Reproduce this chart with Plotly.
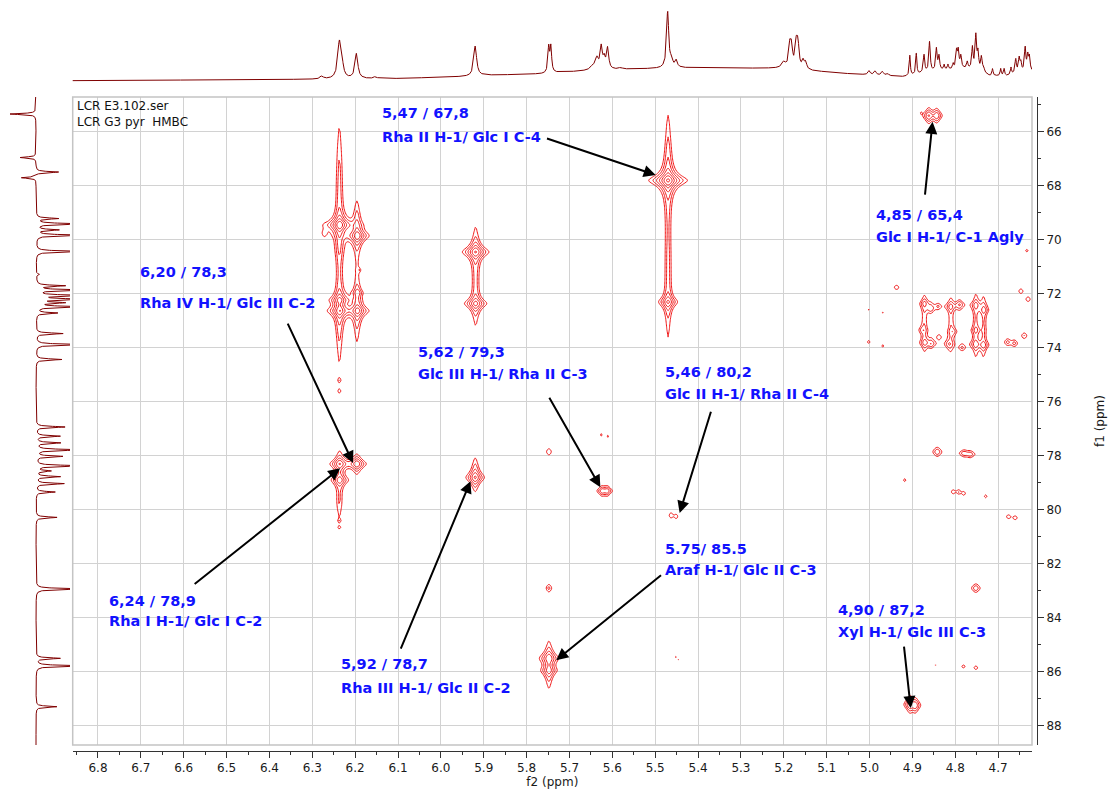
import numpy as np
import plotly.graph_objects as go

# ---------------- 1H projection (top trace) ----------------
h_base_ppm = [6.86, 6.30, 6.10, 5.93, 5.90, 5.76, 5.73, 5.66, 5.58, 5.49, 5.44, 5.40, 5.21,
              5.14, 5.04, 4.95, 4.92, 4.87, 4.82, 4.78, 4.74, 4.72, 4.68, 4.66, 4.62]
h_base_int = [4.3, 5.7, 6.5, 8.6, 9.6, 11.2, 12.4, 14.2, 15.6, 16.6, 17.2, 17.0, 16.7,
              14.3, 11.0, 9.0, 8.3, 12.0, 15.0, 16.0, 13.0, 9.0, 9.0, 11.0, 13.0]

h_peak_ppm = [6.278, 6.237, 6.231, 6.197, 6.153,
              5.920,
              5.7485, 5.7435,
              5.646, 5.636, 5.626, 5.619, 5.611, 5.581,
              5.471, 5.462, 5.451,
              5.200, 5.186, 5.182, 5.171, 5.167, 5.155, 5.149,
              5.001, 4.987, 4.970, 4.958,
              4.906, 4.891, 4.873, 4.860, 4.844, 4.838,
              4.826, 4.817, 4.805,
              4.797, 4.793, 4.787, 4.772,
              4.760, 4.752, 4.747, 4.739, 4.734,
              4.713, 4.694, 4.686, 4.670,
              4.659, 4.651, 4.647,
              4.637, 4.631, 4.627]
h_peak_int = [3, 35, 12, 25, 2,
              30,
              25, 25,
              4, 11, 22, 10, 21, 1.5,
              56, 8, 7,
              6, 21, 19, 23, 23, 8, 7,
              4, 4, 4, 2,
              20, 21, 18, 30, 22, 14,
              5, 5, 5,
              17, 17, 12, 7,
              22, 34, 17, 14, 5,
              7, 7, 7, 7,
              14, 14, 9,
              24, 15, 14]
h_peak_hw = [0.004, 0.0045, 0.004, 0.004, 0.004,
             0.004,
             0.0022, 0.0022,
             0.006, 0.004, 0.003, 0.003, 0.003, 0.005,
             0.003, 0.003, 0.003,
             0.005, 0.003, 0.003, 0.003, 0.003, 0.003, 0.003,
             0.003, 0.003, 0.003, 0.003,
             0.0015, 0.0015, 0.002, 0.002, 0.002, 0.002,
             0.0015, 0.0015, 0.0015,
             0.002, 0.002, 0.002, 0.002,
             0.002, 0.002, 0.002, 0.002, 0.002,
             0.0015, 0.0015, 0.0015, 0.0015,
             0.002, 0.002, 0.002,
             0.002, 0.002, 0.002]

# ---------------- 13C projection (left trace) ----------------
c_peak_ppm = [65.34, 66.95, 67.49, 67.70, 69.21, 69.41, 69.63, 69.83, 70.43, 71.28, 71.70,
              71.86, 72.06, 72.20, 72.33, 72.48, 72.71, 73.47, 73.88, 74.43, 76.93, 77.27,
              77.52, 77.78, 78.02, 78.37, 78.56, 78.77, 79.03, 79.34, 80.28, 82.93, 85.50,
              85.78, 87.29]
c_peak_int = [-26, -16, 23, -15, 22, 50, 22, 50, 50, 3, 28,
              50, 50, 50, 26, 50, 21, 27, 50, 26, 29, 24,
              24, 50, 26, 50, 14, 24, 28, 19, 21, 50, 24,
              50, 21]

# ---------------- HMBC cross peaks: f2 (1H), f1 (13C), amplitude, half-widths ----------------
xp_h = [6.236, 6.195, 6.237, 6.237, 6.196, 6.190, 6.272,
        6.236, 6.236, 6.194, 6.194, 6.237, 6.196, 6.237, 6.237,
        6.236, 6.236, 6.196, 6.237, 6.237, 6.237,
        5.919, 5.919, 5.919, 5.920, 5.920,
        5.470, 5.470, 5.470, 5.470,
        5.748, 5.748, 5.748, 5.748, 5.748,
        5.624, 5.612, 5.626, 5.610,
        5.463, 5.451, 5.452, 5.445,
        4.862, 4.843, 4.880, 4.892,
        4.937, 5.002, 4.985, 4.969, 5.002, 4.969,
        4.872, 4.857, 4.877, 4.871, 4.856, 4.840, 4.838, 4.872,
        4.811, 4.790, 4.805, 4.815, 4.784, 4.810,
        4.752, 4.733, 4.752, 4.753, 4.734, 4.752, 4.734,
        4.678, 4.662, 4.639, 4.647, 4.630, 4.633,
        4.920, 4.842, 4.780, 4.765, 4.918,
        4.805, 4.792, 4.780, 4.729, 4.676, 4.660,
        4.752, 4.781, 4.752, 4.846,
        4.906, 4.893]
xp_c = [69.45, 69.85, 67.85, 70.25, 69.35, 71.12, 69.75,
        72.23, 72.63, 71.96, 72.63, 72.80, 72.60, 75.20, 75.60,
        78.30, 78.90, 78.30, 79.70, 80.40, 80.65,
        70.45, 72.36, 71.40, 78.80, 78.60,
        67.80, 72.30, 67.25, 71.20,
        77.85, 82.90, 85.50, 85.95, 85.80,
        79.30, 79.30, 77.22, 77.28,
        80.20, 80.25, 85.45, 85.55,
        65.40, 65.40, 65.30, 67.05,
        71.76, 72.58, 72.62, 72.70, 73.78, 73.93,
        72.36, 72.55, 73.34, 73.80, 73.85, 72.46, 73.60, 73.10,
        72.48, 72.40, 73.40, 73.86, 74.00, 73.20,
        72.42, 72.60, 73.34, 73.86, 73.90, 73.20, 73.20,
        73.78, 73.84, 73.55, 71.90, 72.20, 70.40,
        76.95, 77.85, 77.90, 77.95, 78.90,
        79.33, 79.33, 79.40, 79.50, 80.25, 80.30,
        82.90, 85.80, 85.85, 85.75,
        87.20, 87.25]
xp_amp = [0.75, 0.45, 0.08, 0.07, 0.075, 0.055, 0.06,
          0.30, 0.40, 0.12, 0.35, 0.08, 0.075, 0.055, 0.055,
          0.30, 0.25, 0.30, 0.065, 0.055, 0.055,
          0.50, 0.35, 0.08, 0.30, 0.065,
          0.85, 0.30, 0.08, 0.08,
          0.08, 0.085, 0.25, 0.20, 0.07,
          0.15, 0.15, 0.06, 0.058,
          0.07, 0.065, 0.055, 0.055,
          0.20, 0.17, 0.055, 0.055,
          0.07, 0.055, 0.052, 0.055, 0.065, 0.06,
          0.12, 0.10, 0.08, 0.12, 0.10, 0.065, 0.065, 0.06,
          0.12, 0.12, 0.08, 0.10, 0.08, 0.06,
          0.12, 0.12, 0.09, 0.12, 0.12, 0.065, 0.065,
          0.08, 0.08, 0.08, 0.07, 0.07, 0.06,
          0.055, 0.11, 0.09, 0.09, 0.065,
          0.07, 0.07, 0.065, 0.065, 0.07, 0.07,
          0.11, 0.065, 0.07, 0.055,
          0.20, 0.15]
xp_wh = [0.009, 0.009, 0.007, 0.007, 0.007, 0.003, 0.006,
         0.009, 0.009, 0.007, 0.009, 0.007, 0.007, 0.003, 0.003,
         0.009, 0.009, 0.009, 0.007, 0.003, 0.003,
         0.010, 0.010, 0.007, 0.009, 0.007,
         0.011, 0.009, 0.007, 0.007,
         0.007, 0.007, 0.010, 0.009, 0.007,
         0.007, 0.007, 0.004, 0.004,
         0.005, 0.005, 0.003, 0.003,
         0.007, 0.007, 0.002, 0.003,
         0.008, 0.004, 0.003, 0.004, 0.005, 0.005,
         0.007, 0.007, 0.007, 0.007, 0.007, 0.006, 0.006, 0.006,
         0.007, 0.007, 0.007, 0.007, 0.007, 0.006,
         0.007, 0.007, 0.007, 0.007, 0.007, 0.006, 0.006,
         0.007, 0.007, 0.007, 0.007, 0.007, 0.006,
         0.003, 0.009, 0.009, 0.009, 0.005,
         0.005, 0.005, 0.005, 0.005, 0.006, 0.006,
         0.009, 0.006, 0.006, 0.003,
         0.007, 0.007]
xp_wc = [0.16, 0.16, 2.20, 0.50, 0.70, 0.06, 0.15,
         0.14, 0.15, 0.12, 0.15, 1.50, 1.20, 0.06, 0.06,
         0.15, 0.15, 0.15, 0.60, 0.05, 0.05,
         0.16, 0.15, 1.60, 0.16, 0.50,
         0.17, 0.16, 1.60, 2.40,
         0.14, 0.14, 0.17, 0.15, 0.80,
         0.12, 0.12, 0.09, 0.09,
         0.11, 0.11, 0.07, 0.06,
         0.16, 0.16, 0.05, 0.07,
         0.12, 0.07, 0.06, 0.07, 0.09, 0.09,
         0.13, 0.13, 0.12, 0.13, 0.13, 0.10, 0.10, 1.00,
         0.13, 0.13, 0.12, 0.13, 0.11, 1.00,
         0.13, 0.13, 0.12, 0.13, 0.13, 1.20, 1.20,
         0.12, 0.12, 0.12, 0.12, 0.12, 0.10,
         0.06, 0.15, 0.11, 0.11, 0.09,
         0.09, 0.09, 0.09, 0.09, 0.09, 0.09,
         0.14, 0.09, 0.09, 0.06,
         0.17, 0.17]

# ---------------- assignment labels ----------------
lab_value = ["5,47 / 67,8", "6,20 / 78,3", "5,62 / 79,3", "5,46 / 80,2", "4,85 / 65,4",
             "6,24 / 78,9", "5,92 / 78,7", "5.75/ 85.5", "4,90 / 87,2"]
lab_assign = ["Rha II H-1/ Glc I C-4", "Rha IV H-1/ Glc III C-2", "Glc III H-1/ Rha II C-3",
              "Glc II H-1/ Rha II C-4", "Glc I H-1/ C-1 Agly", "Rha I H-1/ Glc I C-2",
              "Rha III H-1/ Glc II C-2", "Araf H-1/ Glc II C-3", "Xyl H-1/ Glc III C-3"]
# text anchor (left edge, f2 / f1 of first line, f1 of second line)
lab_x = [6.1415, 6.7065, 6.0574, 5.4808, 4.9904, 6.7789, 6.2372, 5.4808, 5.0791]
lab_y1 = [65.31, 71.20, 74.16, 74.90, 69.09, 83.38, 85.72, 81.46, 83.72]
lab_y2 = [66.20, 72.34, 74.97, 75.71, 69.90, 84.12, 86.60, 82.23, 84.53]
# arrows: tail -> head
arr_tail_x = [5.756, 6.359, 5.749, 5.369, 4.871, 6.578, 6.095, 5.483, 4.920]
arr_tail_y = [66.23, 73.05, 75.79, 76.31, 68.38, 82.79, 85.20, 82.38, 85.01]
arr_head_x = [5.499, 6.205, 5.628, 5.443, 4.853, 6.235, 5.931, 5.731, 4.904]
arr_head_y = [67.60, 78.27, 79.16, 80.12, 65.63, 78.46, 78.94, 85.57, 87.34]


def lorentz(v, v0, hw):
    return 1.0 / (1.0 + ((v - v0) / hw) ** 2)


# top 1D trace
h_axis = np.arange(4.600, 6.880, 0.0004)
order = np.argsort(h_base_ppm)
h_trace = np.interp(h_axis, np.array(h_base_ppm)[order], np.array(h_base_int)[order])
for p, a, w in zip(h_peak_ppm, h_peak_int, h_peak_hw):
    h_trace = h_trace + a * lorentz(h_axis, p, w)

# left 1D trace
c_axis = np.arange(64.5, 89.0, 0.004)
c_trace = np.zeros_like(c_axis)
for p, a in zip(c_peak_ppm, c_peak_int):
    c_trace = c_trace + a * lorentz(c_axis, p, 0.025)

# 2D map
gx = np.arange(4.615, 6.865, 0.003)
gy = np.arange(64.60, 88.80, 0.05)
Z = np.zeros((gy.size, gx.size))
for h, c, a, wh, wc in zip(xp_h, xp_c, xp_amp, xp_wh, xp_wc):
    Z += a * np.outer(lorentz(gy, c, wc), lorentz(gx, h, wh))
Z = np.log10(np.maximum(Z, 1e-3)).astype(np.float32)

FW, FH = 1113, 792
X_DOM = [72.7 / FW, 1032 / FW]
Y_DOM = [1 - 745 / FH, 1 - 97 / FH]
RED = "rgb(240,20,20)"
DARK = "#7f0000"

fig = go.Figure()
fig.add_trace(go.Contour(
    x=gx, y=gy, z=Z, xaxis="x", yaxis="y",
    autocontour=False,
    contours=dict(coloring="lines", start=np.log10(0.05), end=0.5, size=np.log10(1.6)),
    colorscale=[[0, RED], [1, RED]], showscale=False,
    line=dict(width=1, smoothing=1), hoverinfo="skip"))
fig.add_trace(go.Scatter(x=h_axis, y=h_trace, xaxis="x2", yaxis="y2", mode="lines",
                         line=dict(color=DARK, width=1), hoverinfo="skip"))
fig.add_trace(go.Scatter(x=c_trace, y=c_axis, xaxis="x3", yaxis="y3", mode="lines",
                         line=dict(color=DARK, width=1), hoverinfo="skip"))

tick_font = dict(family="DejaVu Sans", size=12, color="#1a1a1a")
fig.update_layout(
    width=FW, height=FH, autosize=False,
    margin=dict(l=0, r=0, t=0, b=0),
    paper_bgcolor="white", plot_bgcolor="white",
    showlegend=False,
    xaxis=dict(domain=X_DOM, range=[6.859, 4.621], anchor="free", position=1 - 751 / FH,
               showgrid=True, gridcolor="#d2d2d2", gridwidth=1, zeroline=False,
               showline=True, linecolor="#333333", linewidth=1,
               ticks="outside", ticklen=6, tickcolor="#333333", dtick=0.1, tick0=0,
               tickformat=".1f", tickfont=tick_font,
               minor=dict(ticks="outside", ticklen=3, tickcolor="#333333", dtick=0.05,
                          showgrid=False),
               title=dict(text="f2 (ppm)", font=tick_font, standoff=2)),
    yaxis=dict(domain=Y_DOM, range=[88.71, 64.71], side="right", anchor="free",
               position=1037 / FW,
               showgrid=True, gridcolor="#d2d2d2", gridwidth=1, zeroline=False,
               showline=True, linecolor="#333333", linewidth=1,
               ticks="outside", ticklen=6, tickcolor="#333333", dtick=2, tick0=0,
               tickfont=tick_font,
               minor=dict(ticks="outside", ticklen=3, tickcolor="#333333", dtick=1,
                          showgrid=False),
               title=dict(text="f1 (ppm)", font=tick_font, standoff=34)),
    xaxis2=dict(domain=X_DOM, matches="x", anchor="y2", visible=False),
    yaxis2=dict(domain=[1 - 85 / FH, 1], range=[0, 85], anchor="x2", visible=False),
    xaxis3=dict(domain=[0, 70 / FW], range=[-36, 34], anchor="y3", visible=False),
    yaxis3=dict(domain=Y_DOM, matches="y", anchor="x3", visible=False),
)

fig.add_shape(type="rect", xref="x domain", yref="y domain", x0=0, x1=1, y0=0, y1=1,
              line=dict(color="#c4c4c4", width=1.5), layer="above")

ann = []
ann.append(dict(x=6.853, y=65.04, xref="x", yref="y", text="LCR E3.102.ser", showarrow=False,
                xanchor="left", yanchor="middle", font=dict(family="DejaVu Sans", size=12, color="#111")))
ann.append(dict(x=6.853, y=65.64, xref="x", yref="y", text="LCR G3 pyr  HMBC", showarrow=False,
                xanchor="left", yanchor="middle", font=dict(family="DejaVu Sans", size=12, color="#111")))
lab_font = dict(family="DejaVu Sans", size=14.5, color="#1212ff")
for v, s, lx, y1, y2 in zip(lab_value, lab_assign, lab_x, lab_y1, lab_y2):
    ann.append(dict(x=lx, y=y1, xref="x", yref="y", text="<b>%s</b>" % v, showarrow=False,
                    xanchor="left", yanchor="middle", font=lab_font))
    ann.append(dict(x=lx, y=y2, xref="x", yref="y", text="<b>%s</b>" % s, showarrow=False,
                    xanchor="left", yanchor="middle", font=lab_font))
for tx, ty, hx, hy in zip(arr_tail_x, arr_tail_y, arr_head_x, arr_head_y):
    ann.append(dict(x=hx, y=hy, xref="x", yref="y", ax=tx, ay=ty, axref="x", ayref="y",
                    text="", showarrow=True, arrowhead=2, arrowsize=1.2, arrowwidth=2,
                    arrowcolor="black", standoff=0, startstandoff=0))
fig.update_layout(annotations=ann)

fig.write_html("out.html")
